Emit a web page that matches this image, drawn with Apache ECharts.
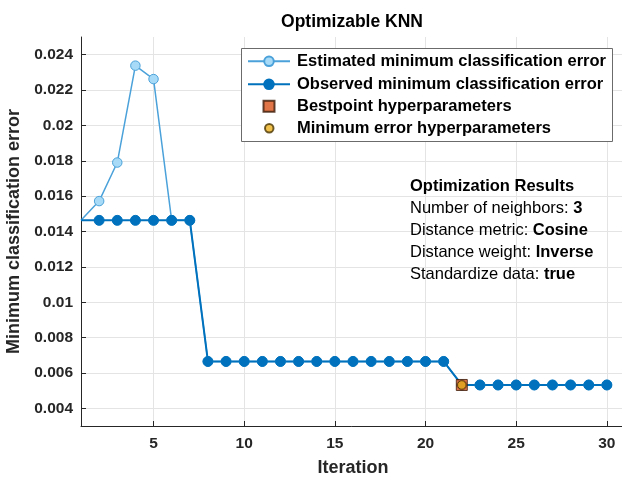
<!DOCTYPE html>
<html>
<head>
<meta charset="utf-8">
<script src="https://cdn.jsdelivr.net/npm/echarts@6/dist/echarts.min.js"></script>
<style>
  html, body { margin: 0; padding: 0; background: #ffffff; }
  #chart { width: 622px; height: 478px; }
</style>
</head>
<body>
<div id="chart"></div>
<script>
// Bayesian optimisation trace for the KNN model
const iterations = [1, 2, 3, 4, 5, 6, 7, 8, 9, 10, 11, 12, 13, 14, 15,
                    16, 17, 18, 19, 20, 21, 22, 23, 24, 25, 26, 27, 28, 29, 30];

const estimatedError = [0.01463, 0.01572, 0.01790, 0.02338, 0.02262, 0.01463, 0.01463,
                        0.00665, 0.00665, 0.00665, 0.00665, 0.00665, 0.00665, 0.00665,
                        0.00665, 0.00665, 0.00665, 0.00665, 0.00665, 0.00665, 0.00665,
                        0.00532, 0.00532, 0.00532, 0.00532, 0.00532, 0.00532, 0.00532,
                        0.00532, 0.00532];

const observedError = [0.01463, 0.01463, 0.01463, 0.01463, 0.01463, 0.01463, 0.01463,
                       0.00665, 0.00665, 0.00665, 0.00665, 0.00665, 0.00665, 0.00665,
                       0.00665, 0.00665, 0.00665, 0.00665, 0.00665, 0.00665, 0.00665,
                       0.00532, 0.00532, 0.00532, 0.00532, 0.00532, 0.00532, 0.00532,
                       0.00532, 0.00532];

const bestPoint = [22, 0.00532];
const minErrorPoint = [22, 0.00532];

const xTicks = [5, 10, 15, 20, 25, 30];
const yTicks = [0.004, 0.006, 0.008, 0.010, 0.012, 0.014, 0.016,
                0.018, 0.020, 0.022, 0.024];

const seriesNames = [
  'Estimated minimum classification error',
  'Observed minimum classification error',
  'Bestpoint hyperparameters',
  'Minimum error hyperparameters'
];

const resultsTitle = 'Optimization Results';
const resultLines = [
  ['Number of neighbors: ', '3'],
  ['Distance metric: ', 'Cosine'],
  ['Distance weight: ', 'Inverse'],
  ['Standardize data: ', 'true']
];

const FONT = '"Liberation Sans", Arial, Helvetica, sans-serif';
const AXIS_COLOR = '#262626';

// the first iteration sits on the axis and carries no marker
function toLineData(values) {
  return iterations.map((x, i) =>
    i === 0 ? { value: [x, values[i]], symbol: 'none' } : [x, values[i]]);
}

// one legend block per row so each key lines up inside the framed box
function legendRow(name, top, left, iconW, iconH, textIndent) {
  return {
    data: [name],
    orient: 'vertical', left: left, top: top, padding: 0,
    itemWidth: iconW, itemHeight: iconH, selectedMode: false, z: 6,
    textStyle: { fontFamily: FONT, fontSize: 16.5, fontWeight: 'bold', color: '#000',
                 lineHeight: 18, padding: [3, 0, 0, textIndent] }
  };
}

const chart = echarts.init(document.getElementById('chart'), null, { renderer: 'canvas' });

const axisCommon = {
  type: 'value',
  axisLine: { show: true, lineStyle: { color: AXIS_COLOR, width: 1 } },
  splitLine: { show: true, lineStyle: { color: '#e4e4e4', width: 1 } },
  nameLocation: 'middle',
  nameTextStyle: { fontFamily: FONT, fontSize: 18, fontWeight: 'bold', color: AXIS_COLOR }
};

const option = {
  animation: false,
  backgroundColor: '#ffffff',
  grid: { left: 81, right: -3, top: 37, bottom: 52, outerBoundsMode: 'none' },
  xAxis: Object.assign({}, axisCommon, {
    min: 1, max: 31,
    name: 'Iteration',
    nameGap: 33,
    axisTick: { show: true, inside: true, length: 5, customValues: xTicks,
                lineStyle: { color: AXIS_COLOR } },
    axisLabel: { customValues: xTicks, margin: 10, fontFamily: FONT, fontSize: 15.5,
                 fontWeight: 'bold', color: AXIS_COLOR }
  }),
  yAxis: Object.assign({}, axisCommon, {
    min: 0.003, max: 0.025,
    name: 'Minimum classification error',
    nameGap: 55,
    axisTick: { show: true, inside: true, length: 5, customValues: yTicks,
                lineStyle: { color: AXIS_COLOR } },
    axisLabel: { customValues: yTicks, margin: 8, fontFamily: FONT, fontSize: 15.5,
                 fontWeight: 'bold', color: AXIS_COLOR,
                 formatter: v => String(+v.toFixed(3)) }
  }),
  legend: [
    legendRow(seriesNames[0], 50.8, 247, 42, 12, 2),
    legendRow(seriesNames[1], 73.8, 247, 42, 12, 2),
    legendRow(seriesNames[2], 95.8, 262.5, 11, 11, 17.5),
    legendRow(seriesNames[3], 117.8, 264, 8.5, 8.5, 18.5)
  ],
  graphic: [
    {
      type: 'text', z: 5,
      style: { text: 'Optimizable KNN', x: 352, y: 22, align: 'center', verticalAlign: 'middle',
               font: 'bold 17.5px ' + FONT, fill: '#000' }
    },
    {
      type: 'rect', z: 4,
      shape: { x: 241.5, y: 48.5, width: 371, height: 93 },
      style: { fill: '#ffffff', stroke: '#6b6b6b', lineWidth: 1 }
    },
    {
      type: 'text', z: 5,
      style: { text: resultsTitle, x: 410, y: 186.5, verticalAlign: 'middle',
               font: 'bold 16.5px ' + FONT, fill: '#000' }
    }
  ].concat(resultLines.map((line, i) => ({
    type: 'text', z: 5,
    style: {
      text: '{n|' + line[0] + '}{b|' + line[1] + '}',
      x: 410, y: 208.5 + i * 22, verticalAlign: 'middle',
      rich: {
        n: { fontFamily: FONT, fontSize: 16.5, fontWeight: 'normal', fill: '#000' },
        b: { fontFamily: FONT, fontSize: 16.5, fontWeight: 'bold', fill: '#000' }
      }
    }
  }))),
  series: [
    {
      name: seriesNames[0], type: 'line', silent: true,
      data: toLineData(estimatedError),
      symbol: 'circle', symbolSize: 9.5, showSymbol: true,
      lineStyle: { color: '#4BA2DA', width: 1.5 },
      itemStyle: { color: '#A6DAF6', borderColor: '#4BA2DA', borderWidth: 1 },
      emphasis: { disabled: true }
    },
    {
      name: seriesNames[1], type: 'line', silent: true,
      data: toLineData(observedError),
      symbol: 'circle', symbolSize: 10, showSymbol: true,
      lineStyle: { color: '#0072BD', width: 2 },
      itemStyle: { color: '#0072BD', borderColor: '#0072BD', borderWidth: 1 },
      emphasis: { disabled: true }
    },
    {
      name: seriesNames[2], type: 'scatter', silent: true, z: 3,
      data: [bestPoint],
      symbol: 'rect', symbolSize: 11,
      itemStyle: { color: '#D95319', borderColor: '#3b1a08', borderWidth: 1 },
      emphasis: { disabled: true }
    },
    {
      name: seriesNames[3], type: 'scatter', silent: true, z: 4,
      data: [minErrorPoint],
      symbol: 'circle', symbolSize: 8.5,
      itemStyle: { color: '#EDB120', borderColor: '#4a3500', borderWidth: 1 },
      emphasis: { disabled: true }
    }
  ]
};

chart.setOption(option);
</script>
</body>
</html>
